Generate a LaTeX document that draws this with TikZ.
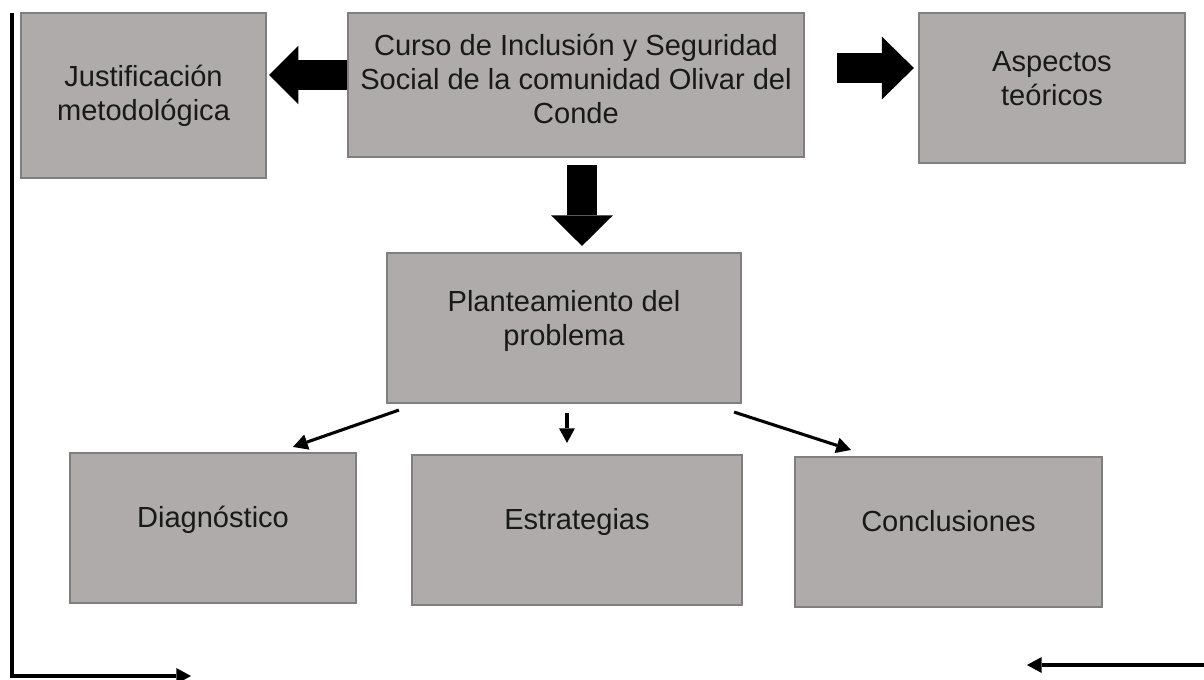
\documentclass[tikz,border=0pt]{standalone}
\usepackage{fontspec}
\setmainfont{Liberation Sans}
\usetikzlibrary{arrows.meta,calc,fit}
\definecolor{boxfill}{HTML}{AFABAB}
\definecolor{boxline}{HTML}{7F7F7F}
\begin{document}
\begin{tikzpicture}[x=0.75pt,y=-0.75pt,
  box/.style={draw=boxline,line width=1.6pt,fill=boxfill,inner sep=0pt,rectangle},
  txt/.style={font=\fontsize{21.8pt}{25.5pt}\selectfont,align=center,inner sep=0pt,anchor=base,text=black!90},
  bigarrow/.style={line width=#1},
  thinarrow/.style={line width=2.3pt,-{Triangle[length=11pt,width=12pt,line width=0pt]}}]
\useasboundingbox (0,0) rectangle (1204,679);
% boxes
\node[box,fit={(21,13) (266,178)}] (jus) {};
\node[box,fit={(348,13) (804,157)}] (cur) {};
\node[box,fit={(919,13) (1185,163)}] (asp) {};
\node[box,fit={(387,253) (741,403)}] (pla) {};
\node[box,fit={(70,453) (356,603)}] (dia) {};
\node[box,fit={(412,455) (742,605)}] (est) {};
\node[box,fit={(795,457) (1102,607)}] (con) {};
% texts (anchor = baseline of the last line)
\node[txt] (jus-t) at (143.5,120) {Justificación\\metodológica};
\node[txt] (cur-t) at (576,123) {Curso de Inclusión y Seguridad\\Social de la comunidad Olivar del\\Conde};
\node[txt] (asp-t) at (1052,105) {Aspectos\\teóricos};
\node[txt] (pla-t) at (564,345) {Planteamiento del\\problema};
\node[txt] (dia-t) at (213,527) {Diagnóstico};
\node[txt] (est-t) at (577,529) {Estrategias};
\node[txt] (con-t) at (948.5,531) {Conclusiones};
% big arrows
\draw[bigarrow=22pt,-{Triangle[length=22pt,width=44pt,line width=0pt]}] ($(cur.west)+(0,-10)$) -- ($(jus.east)+(2,-20.5)$);
\draw[bigarrow=22.5pt,-{Triangle[length=24pt,width=47pt,line width=0pt]}] ($(cur.east)+(32,-17)$) -- ($(asp.west)+(-4,-20)$);
\draw[bigarrow=22.5pt,-{Triangle[length=23pt,width=46.5pt,line width=0pt]}] ($(cur.south)+(6,7)$) -- ($(pla.north)+(18,-6)$);
% thin arrows
\draw[thinarrow] ($(pla.south west)+(13,6)$) -- ($(dia.north)+(80,-5)$);
\draw[thinarrow] ($(pla.south)+(3,9)$) -- ($(est.north)+(-10,-11)$);
\draw[thinarrow] ($(pla.south east)+(-8,8)$) -- ($(con.north)+(-97.5,-6)$);
% side lines
\coordinate (tl) at (12,13);
\coordinate (bl) at (12,676);
\coordinate (be) at (191,676);
\coordinate (rs) at (1204,665);
\coordinate (re) at (1027,665);
\draw[thinarrow,line width=2.6pt] (tl) -- (bl) -- (be);
\draw[thinarrow] (rs) -- (re);
\end{tikzpicture}
\end{document}
